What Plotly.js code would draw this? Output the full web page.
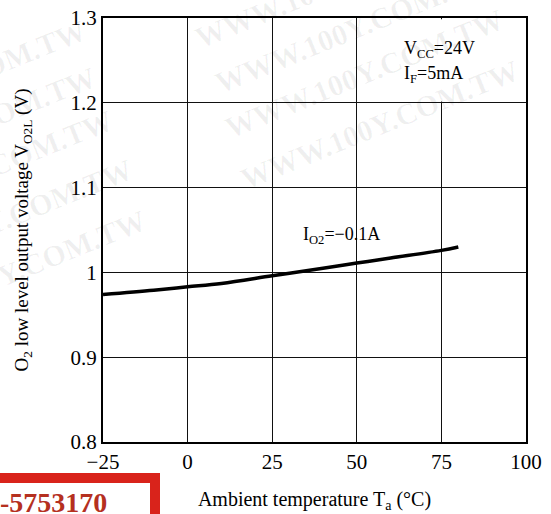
<!DOCTYPE html>
<html><head><meta charset="utf-8">
<script src="https://cdn.plot.ly/plotly-3.0.1.min.js"></script>
<style>body{margin:0;background:#fff}#c{width:551px;height:514px}</style>
</head><body><div id="c"></div>
<script>
const temps = [-25, -10, 0, 10, 25, 40, 50, 60, 75, 80];
const volts = [0.974, 0.979, 0.983, 0.987, 0.996, 1.005, 1.011, 1.017, 1.026, 1.030];
const xTicks = [-25, 0, 25, 50, 75, 100];
const xTickLabels = ['−25', '0', '25', '50', '75', '100'];
const yTicks = [0.8, 0.9, 1, 1.1, 1.2, 1.3];
const yTickLabels = ['0.8', '0.9', '1', '1.1', '1.2', '1.3'];
const watermarkText = 'WWW.100Y.COM.TW';
const stampText = '-5753170';
const serif = 'Liberation Serif, Times New Roman, serif';

// watermark centres in pixel coordinates of the 551x514 picture
const wmPx = [[-54, 84], [-44, 131], [-27, 174], [-7, 224], [6, 274], [334, -16], [354, 29], [364, 74], [379, 124]];
const toPaperX = px => (px - 103) / 423;
const toPaperY = py => (442 - py) / 424;
const wm = wmPx.map(p => ({xref:'paper', yref:'paper', x:toPaperX(p[0]), y:toPaperY(p[1]), xanchor:'center', yanchor:'middle',
  text:'<b>' + watermarkText + '</b>', showarrow:false, textangle:-22,
  font:{family:serif, size:30, color:'rgba(0,0,0,0.06)'}}));

const data = [{x: temps, y: volts, type:'scatter', mode:'lines', line:{color:'#000', width:3.5, shape:'spline'}, hoverinfo:'none'}];
const layout = {
  width:551, height:514, margin:{l:103, r:25, t:18, b:72},
  paper_bgcolor:'#fff', plot_bgcolor:'#fff', showlegend:false,
  font:{family:serif, color:'#000'},
  xaxis:{range:[-25,100], tickvals:xTicks, ticktext:xTickLabels, showgrid:true, gridcolor:'#111', gridwidth:1,
    zeroline:false, showline:true, linecolor:'#000', linewidth:2, mirror:true, ticks:'', tickfont:{size:21, family:serif},
    title:{text:'Ambient temperature T<sub>a</sub> (°C)', font:{size:20, family:serif}, standoff:19}},
  yaxis:{range:[0.8,1.3], tickvals:yTicks, ticktext:yTickLabels, showgrid:true, gridcolor:'#111', gridwidth:1,
    zeroline:false, showline:true, linecolor:'#000', linewidth:2, mirror:true, ticks:'', tickfont:{size:21, family:serif},
    title:{text:'O<sub>2</sub> low level output voltage V<sub>O2L</sub> (V)', font:{size:19, family:serif}, standoff:37}},
  annotations: wm.concat([
    {xref:'x', yref:'y', x:63.5, y:1.2625, xanchor:'left', text:'V<sub>CC</sub>=24V', showarrow:false, font:{size:18, family:serif}},
    {xref:'x', yref:'y', x:63.5, y:1.233, xanchor:'left', text:'I<sub>F</sub>=5mA', showarrow:false, font:{size:18, family:serif}},
    {xref:'x', yref:'y', x:33.5, y:1.043, xanchor:'left', text:'I<sub>O2</sub>=−0.1A', showarrow:false, font:{size:18, family:serif}},
    {xref:'paper', yref:'paper', x:toPaperX(-2), y:toPaperY(502), xanchor:'left', yanchor:'middle', text:'<b>' + stampText + '</b>', showarrow:false,
      font:{size:28, family:serif, color:'#b5301f'}}
  ]),
  shapes:[
    {type:'rect', xref:'x', yref:'y', x0:74.3, x1:75.7, y0:1.2015, y1:1.2985, line:{width:0}, fillcolor:'#fff', layer:'between'},
    {type:'rect', xref:'paper', yref:'paper', x0:toPaperX(-10), x1:toPaperX(155), y0:toPaperY(530), y1:toPaperY(478),
      line:{color:'#d9231b', width:10}, fillcolor:'rgba(0,0,0,0)', layer:'above'}
  ]
};
Plotly.newPlot('c', data, layout, {staticPlot:true});
</script></body></html>
